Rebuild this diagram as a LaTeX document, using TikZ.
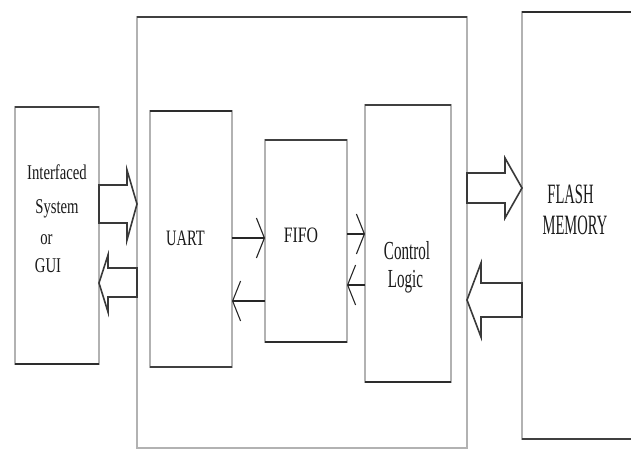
\documentclass[tikz,border=0pt]{standalone}
\usepackage{fontspec}
\setmainfont{Liberation Serif}
\usetikzlibrary{arrows.meta}

\tikzset{
  blk/.style={draw=gray!60, line width=1.2pt, inner sep=0pt, outer sep=0pt, anchor=north west},
  rim/.style={draw=gray!35!black, line width=2.6pt},
  lip/.style={draw=gray!50!black, line width=1.7pt},
  sig/.style={draw=gray!30!black, line width=1.3pt, -{Straight Barb[length=8pt,width=40pt,line width=1.1pt]}},
  fat/.style={draw=gray!45!black, line width=1.6pt, line join=miter},
  lbl/.style={text=black!90, inner sep=0pt, anchor=base},
}

\begin{document}
\begin{tikzpicture}[x=1pt,y=-1pt]
  \useasboundingbox (0,0) rectangle (631,450);

  % blocks
  \node[blk, minimum width=330, minimum height=431] (core) at (137,17) {};
  \node[blk, minimum width=84, minimum height=257] (ifs) at (15,107) {};
  \node[blk, minimum width=82, minimum height=256] (uart) at (150,111) {};
  \node[blk, minimum width=82, minimum height=202] (fifo) at (265,140) {};
  \node[blk, minimum width=86, minimum height=277] (ctrl) at (365,105) {};
  \node[blk, minimum width=112, minimum height=427] (flash) at (522,12) {};

  \draw[lip] (core.north west) -- (core.north east);
  \draw[lip] (ifs.north west) -- (ifs.north east);
  \draw[rim] (ifs.south west) -- (ifs.south east);
  \draw[rim] (uart.north west) -- (uart.north east);
  \draw[lip] (uart.south west) -- (uart.south east);
  \draw[lip] (fifo.north west) -- (fifo.north east);
  \draw[rim] (fifo.south west) -- (fifo.south east);
  \draw[lip] (ctrl.north west) -- (ctrl.north east);
  \draw[rim] (ctrl.south west) -- (ctrl.south east);
  \draw[rim] (flash.north west) -- (flash.north east);
  \draw[lip] (flash.south west) -- (flash.south east);

  % labels
  \begin{scope}[font=\fontsize{21}{25}\selectfont]
    \node[lbl] (ifs1) at (57,179) {\scalebox{0.7}[1]{Interfaced}};
    \node[lbl] (ifs2) at (57,213) {\scalebox{0.7}[1]{System}};
    \node[lbl] (ifs3) at (46.5,244) {\scalebox{0.7}[1]{or}};
    \node[lbl] (ifs4) at (48,272) {\scalebox{0.7}[1]{GUI}};
  \end{scope}
  \begin{scope}[font=\fontsize{22}{26}\selectfont]
    \node[lbl] (uartlbl) at (185.5,245) {\scalebox{0.66}[1]{UART}};
    \node[lbl] (fifolbl) at (301,242) {\scalebox{0.72}[1]{FIFO}};
  \end{scope}
  \begin{scope}[font=\fontsize{26}{30}\selectfont]
    \node[lbl] (ctrl1) at (407,259) {\scalebox{0.58}[1]{Control}};
    \node[lbl] (ctrl2) at (405.5,287) {\scalebox{0.58}[1]{Logic}};
  \end{scope}
  \begin{scope}[font=\fontsize{28}{32}\selectfont]
    \node[lbl] (flash1) at (570.5,203) {\scalebox{0.52}[1]{FLASH}};
    \node[lbl] (flash2) at (575,234) {\scalebox{0.52}[1]{MEMORY}};
  \end{scope}

  % signals inside the core
  \draw[sig] (uart.east |- 0,238) -- (fifo.west |- 0,238);
  \draw[sig] (fifo.west |- 0,301) -- (uart.east |- 0,301);
  \draw[sig] (fifo.east |- 0,234) -- (ctrl.west |- 0,234);
  \draw[sig] (ctrl.west |- 0,285) -- (fifo.east |- 0,285);

  % bus arrows
  \draw[fat] (ifs.east |- 0,185) -- (127,185) -- (127,170) -- (core.west |- 0,204)
    -- (127,240) -- (127,223) -- (ifs.east |- 0,223) -- cycle;
  \draw[fat] (core.west |- 0,268) -- (108,268) -- (108,255) -- (ifs.east |- 0,283)
    -- (108,312) -- (108,297) -- (core.west |- 0,297) -- cycle;
  \draw[fat] (core.east |- 0,173) -- (505,173) -- (505,158) -- (flash.west |- 0,188)
    -- (505,218) -- (505,203) -- (core.east |- 0,203) -- cycle;
  \draw[fat] (flash.west |- 0,283) -- (481,283) -- (481,263) -- (core.east |- 0,300)
    -- (481,337) -- (481,317) -- (flash.west |- 0,317) -- cycle;
\end{tikzpicture}
\end{document}
